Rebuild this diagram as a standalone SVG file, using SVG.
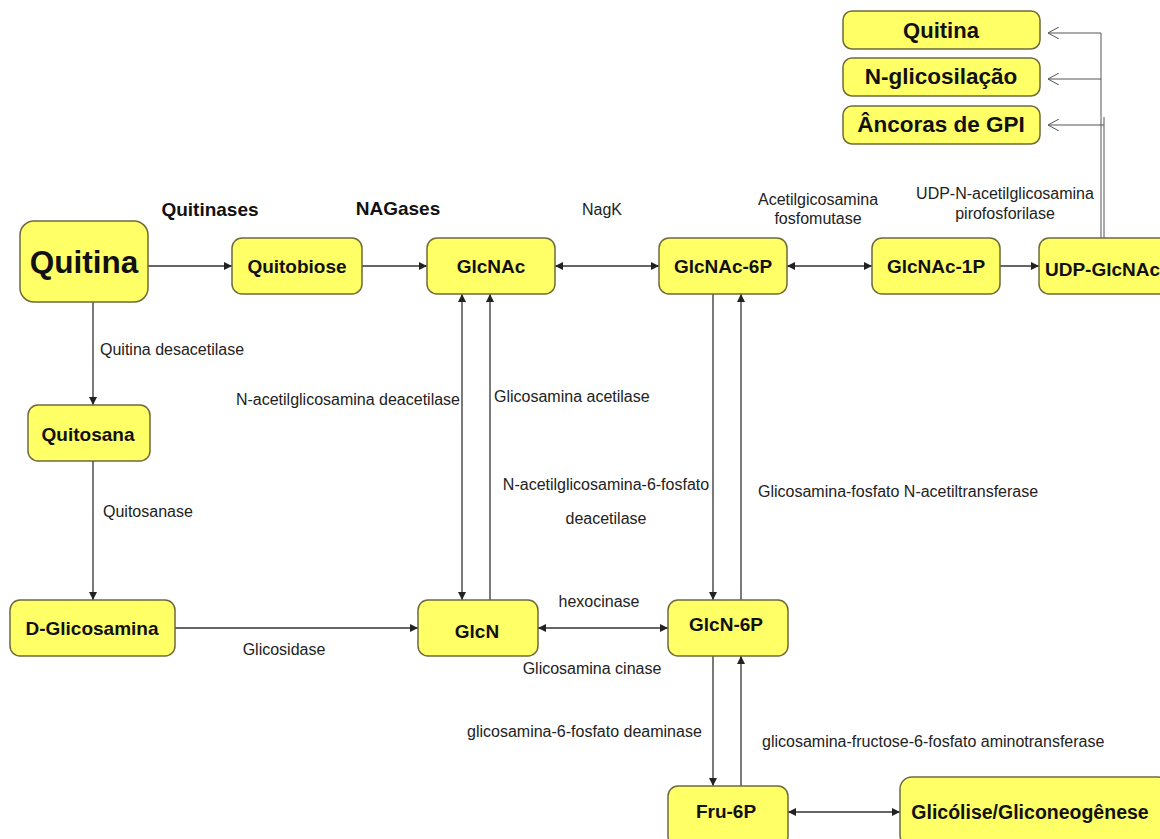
<svg xmlns="http://www.w3.org/2000/svg" width="1160" height="839" viewBox="0 0 1160 839">
<defs>
<style>
.n{fill:#ffff66;stroke:#6e6a3c;stroke-width:1.5}
.t{font-family:"Liberation Sans",Arial,sans-serif;font-weight:bold;font-size:19px;fill:#111;text-anchor:middle}
.l{font-family:"Liberation Sans",Arial,sans-serif;font-size:16px;fill:#222}
.c{stroke:#333;stroke-width:1.3;fill:none}
.o{stroke:#555;stroke-width:1;fill:none}
</style>
<marker id="a" viewBox="0 0 10 10" refX="10" refY="5" markerWidth="8" markerHeight="8" orient="auto-start-reverse" markerUnits="userSpaceOnUse"><path d="M0,0 L10,5 L0,10 z" fill="#222"/></marker>
<marker id="v" viewBox="0 0 12 12" refX="11" refY="6" markerWidth="12" markerHeight="12" orient="auto" markerUnits="userSpaceOnUse"><path d="M0,0 L11,6 L0,12" fill="none" stroke="#555" stroke-width="1"/></marker>
</defs>
<rect width="1160" height="839" fill="#fff"/>
<g id="connectors">
<line class="c" x1="148" y1="266" x2="232" y2="266" marker-end="url(#a)"/>
<line class="c" x1="362" y1="266" x2="427" y2="266" marker-end="url(#a)"/>
<line class="c" x1="555" y1="266" x2="659" y2="266" marker-start="url(#a)" marker-end="url(#a)"/>
<line class="c" x1="787" y1="266" x2="872" y2="266" marker-start="url(#a)" marker-end="url(#a)"/>
<line class="c" x1="1000" y1="266" x2="1039" y2="266" marker-end="url(#a)"/>
<line class="c" x1="93" y1="302" x2="93" y2="405" marker-end="url(#a)"/>
<line class="c" x1="93" y1="461" x2="93" y2="600" marker-end="url(#a)"/>
<line class="c" x1="175" y1="628" x2="418" y2="628" marker-end="url(#a)"/>
<line class="c" x1="538" y1="628" x2="668" y2="628" marker-start="url(#a)" marker-end="url(#a)"/>
<line class="c" x1="462" y1="294" x2="462" y2="600" marker-start="url(#a)" marker-end="url(#a)"/>
<line class="c" x1="490" y1="600" x2="490" y2="294" marker-end="url(#a)"/>
<line class="c" x1="713" y1="294" x2="713" y2="600" marker-end="url(#a)"/>
<line class="c" x1="741" y1="600" x2="741" y2="294" marker-end="url(#a)"/>
<line class="c" x1="713" y1="656" x2="713" y2="786" marker-end="url(#a)"/>
<line class="c" x1="741" y1="786" x2="741" y2="656" marker-end="url(#a)"/>
<line class="c" x1="788" y1="812" x2="900" y2="812" marker-start="url(#a)" marker-end="url(#a)"/>
<line class="o" x1="1101" y1="238" x2="1101" y2="33"/>
<line class="o" x1="1104" y1="238" x2="1104" y2="117"/>
<line class="o" x1="1101" y1="33" x2="1048" y2="33" marker-end="url(#v)"/>
<line class="o" x1="1101" y1="79" x2="1048" y2="79" marker-end="url(#v)"/>
<line class="o" x1="1104" y1="125" x2="1048" y2="125" marker-end="url(#v)"/>
</g>
<g id="n-quitina"><rect class="n" x="20" y="221" width="128" height="81" rx="14"/><text class="t" x="84" y="273" style="font-size:31.5px">Quitina</text></g>
<g id="n-quitobiose"><rect class="n" x="232" y="238" width="130" height="56" rx="10"/><text class="t" x="297" y="273">Quitobiose</text></g>
<g id="n-glcnac"><rect class="n" x="427" y="238" width="128" height="56" rx="10"/><text class="t" x="491" y="273">GlcNAc</text></g>
<g id="n-glcnac6p"><rect class="n" x="659" y="238" width="128" height="56" rx="10"/><text class="t" x="723" y="273">GlcNAc-6P</text></g>
<g id="n-glcnac1p"><rect class="n" x="872" y="238" width="128" height="56" rx="10"/><text class="t" x="936" y="273">GlcNAc-1P</text></g>
<g id="n-udpglcnac"><rect class="n" x="1039" y="238" width="140" height="56" rx="10"/><text class="t" x="1045" y="276" style="text-anchor:start">UDP-GlcNAc</text></g>
<g id="n-quitosana"><rect class="n" x="28" y="405" width="122" height="56" rx="10"/><text class="t" x="88" y="441">Quitosana</text></g>
<g id="n-dglicosamina"><rect class="n" x="10" y="600" width="165" height="56" rx="10"/><text class="t" x="92" y="635">D-Glicosamina</text></g>
<g id="n-glcn"><rect class="n" x="418" y="600" width="120" height="56" rx="10"/><text class="t" x="477" y="638">GlcN</text></g>
<g id="n-glcn6p"><rect class="n" x="668" y="600" width="120" height="56" rx="10"/><text class="t" x="726" y="631">GlcN-6P</text></g>
<g id="n-fru6p"><rect class="n" x="668" y="786" width="120" height="60" rx="10"/><text class="t" x="726" y="818">Fru-6P</text></g>
<g id="n-glicolise"><rect class="n" x="900" y="777" width="270" height="70" rx="12"/><text class="t" x="1030" y="819" style="font-size:19.5px">Glicólise/Gliconeogênese</text></g>
<g id="n-quitina2"><rect class="n" x="843" y="11" width="197" height="38" rx="9"/><text class="t" x="941" y="38" style="font-size:22px">Quitina</text></g>
<g id="n-nglicosilacao"><rect class="n" x="843" y="58" width="197" height="38" rx="9"/><text class="t" x="941" y="84" style="font-size:22.5px">N-glicosilação</text></g>
<g id="n-ancoras"><rect class="n" x="843" y="106" width="197" height="38" rx="9"/><text class="t" x="941" y="132" style="font-size:22.5px">Âncoras de GPI</text></g>
<g id="labels">
<text class="t" x="210" y="216">Quitinases</text>
<text class="t" x="398" y="215">NAGases</text>
<text class="l" x="602" y="215" text-anchor="middle">NagK</text>
<text class="l" x="818" y="205" text-anchor="middle">Acetilgicosamina</text>
<text class="l" x="818" y="224" text-anchor="middle">fosfomutase</text>
<text class="l" x="1005" y="199" text-anchor="middle">UDP-N-acetilglicosamina</text>
<text class="l" x="1005" y="219" text-anchor="middle">pirofosforilase</text>
<text class="l" x="100" y="355">Quitina desacetilase</text>
<text class="l" x="103" y="517">Quitosanase</text>
<text class="l" x="460" y="405" text-anchor="end">N-acetilglicosamina  deacetilase</text>
<text class="l" x="494" y="402">Glicosamina acetilase</text>
<text class="l" x="606" y="490" text-anchor="middle">N-acetilglicosamina-6-fosfato</text>
<text class="l" x="606" y="524" text-anchor="middle">deacetilase</text>
<text class="l" x="758" y="497">Glicosamina-fosfato N-acetiltransferase</text>
<text class="l" x="284" y="655" text-anchor="middle">Glicosidase</text>
<text class="l" x="599" y="607" text-anchor="middle">hexocinase</text>
<text class="l" x="592" y="674" text-anchor="middle">Glicosamina  cinase</text>
<text class="l" x="467" y="737">glicosamina-6-fosfato deaminase</text>
<text class="l" x="762" y="747">glicosamina-fructose-6-fosfato aminotransferase</text>
</g>
</svg>
